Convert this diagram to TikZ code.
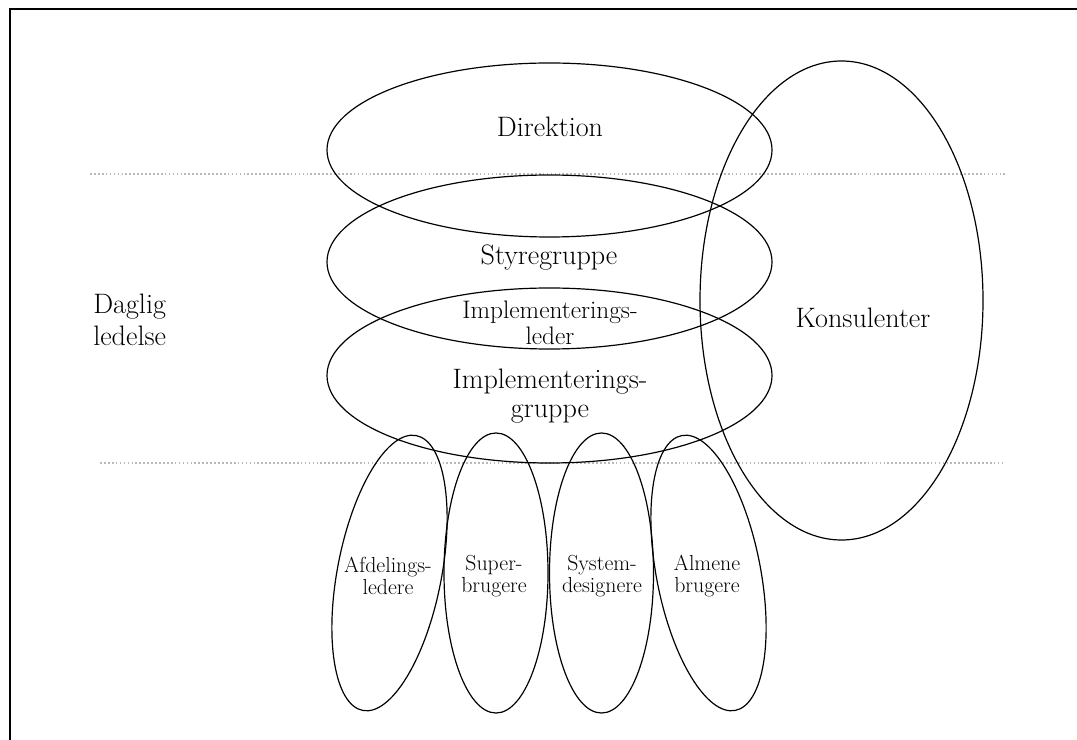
\documentclass[tikz,border=0pt]{standalone}
\usepackage{tikz}
\usetikzlibrary{calc}

\begin{document}
\begin{tikzpicture}[x=0.025cm,y=-0.025cm,
	ring/.style={line width=0.85pt,black},
	sep/.style={gray!55,line width=0.9pt,dash pattern=on 1.2pt off 1.6pt},
	big/.style={font=\fontsize{20}{21}\selectfont,align=center,inner sep=0pt},
	mid/.style={font=\fontsize{18}{18.5}\selectfont,align=center,inner sep=0pt},
	small/.style={font=\fontsize{15.5}{16}\selectfont,align=center,inner sep=0pt}]
	\useasboundingbox (0,0) rectangle (1077,740);
	% frame and level lines
	\draw[line width=1pt] (10,760)--(10,9)--(1090,9);
	\draw[sep] (90,174)--(1005,174);
	\draw[sep] (100,463)--(1005,463);
	% upper rings
	\draw[ring] (549.5,150) ellipse (222.5 and 87);
	\draw[ring] (549.5,262) ellipse (222.5 and 87);
	\draw[ring] (549.5,375.5) ellipse (222.5 and 87.5);
	\draw[ring] (841.5,300.5) ellipse (141.5 and 239.5);
	% lower rings
	\draw[ring,rotate around={-11:(389.5,573)}] (389.5,573) ellipse (52 and 140);
	\draw[ring] (496,573) ellipse (52 and 140);
	\draw[ring] (601.5,573) ellipse (52 and 140);
	\draw[ring,rotate around={11:(708.5,573)}] (708.5,573) ellipse (52 and 140);
	% labels
	\node[big] (direktion) at (550,127) {Direktion};
	\node[big] (styre) at (549,258) {Styregruppe};
	\node[mid] (leder) at (550,323) {Implementerings-\\leder};
	\node[big] (gruppe) at (550,396) {Implementerings-\\gruppe};
	\node[big,anchor=west,align=left,font=\fontsize{20}{23}\selectfont] (daglig) at (93,320) {Daglig\\ledelse};
	\node[big] (konsulent) at (863,318) {Konsulenter};
	\node[small] (afd) at (388,576) {Afdelings-\\ledere};
	\node[small] (super) at (494,576) {Super-\\brugere};
	\node[small] (system) at (602,576) {System-\\designere};
	\node[small] (almene) at (707,576) {Almene\\brugere};
\end{tikzpicture}
\end{document}
